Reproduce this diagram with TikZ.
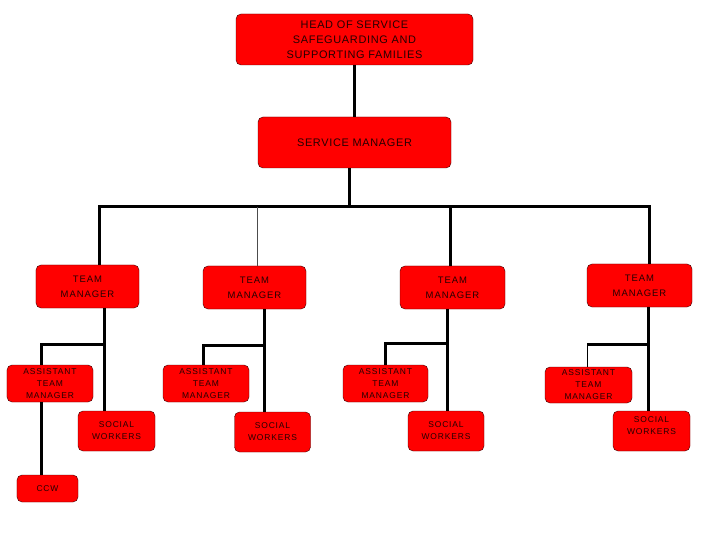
\documentclass[tikz,border=0pt]{standalone}
\usepackage{fontspec}
\setmainfont{Liberation Sans}
\usepackage{tikz}
\usetikzlibrary{positioning}

\tikzset{
  box/.style={draw=black!75!red, fill=red, rounded corners=5bp, align=center, inner sep=0pt, text=black!85!red},
  bigtext/.style={font=\fontsize{11}{15}\selectfont\addfontfeatures{LetterSpace=6}},
  tmtext/.style={font=\fontsize{9.5}{15}\selectfont\addfontfeatures{LetterSpace=10}},
  smalltext/.style={font=\fontsize{8.5}{12}\selectfont\addfontfeatures{LetterSpace=10}},
  link/.style={line width=3bp, black},
  thinlink/.style={line width=0.9bp, black!70}
}

\begin{document}
\begin{tikzpicture}[x=1bp, y=-1bp]
\useasboundingbox (0,0) rectangle (720,540);

% top of the chart
\node[box, bigtext, minimum width=237bp, minimum height=51bp] (head) at (354.5,39.5) {HEAD OF SERVICE\\SAFEGUARDING AND\\SUPPORTING FAMILIES};
\node[box, bigtext, minimum width=193bp, minimum height=51bp] (sm) at (354.5,142.5) {SERVICE MANAGER};

% team managers
\node[box, tmtext, minimum width=103bp, minimum height=43bp] (tm1) at (87.5,286.5) {TEAM\\MANAGER};
\node[box, tmtext, minimum width=103bp, minimum height=43bp] (tm2) at (254.5,287.5) {TEAM\\MANAGER};
\node[box, tmtext, minimum width=105bp, minimum height=43bp] (tm3) at (452.5,287.5) {TEAM\\MANAGER};
\node[box, tmtext, minimum width=105bp, minimum height=43bp] (tm4) at (639.5,285.5) {TEAM\\MANAGER};

% assistant team managers
\node[box, smalltext, minimum width=86bp, minimum height=37bp] (atm1) at (50,383.5) {ASSISTANT\\TEAM\\MANAGER};
\node[box, smalltext, minimum width=86bp, minimum height=37bp] (atm2) at (206,383.5) {ASSISTANT\\TEAM\\MANAGER};
\node[box, smalltext, minimum width=85bp, minimum height=37bp] (atm3) at (385.5,383.5) {ASSISTANT\\TEAM\\MANAGER};
\node[box, smalltext, minimum width=87bp, minimum height=36bp] (atm4) at (588.5,385) {ASSISTANT\\TEAM\\MANAGER};

% social workers
\node[box, smalltext, minimum width=77bp, minimum height=40bp] (sw1) at (116.5,431) {SOCIAL\\WORKERS};
\node[box, smalltext, minimum width=76bp, minimum height=40bp] (sw2) at (272.5,432) {SOCIAL\\WORKERS};
\node[box, smalltext, minimum width=76bp, minimum height=40bp] (sw3) at (446,431) {SOCIAL\\WORKERS};
\node[box, smalltext, minimum width=77bp, minimum height=40bp, text depth=10bp] (sw4) at (651.5,431) {SOCIAL\\WORKERS};

\node[box, smalltext, minimum width=61bp, minimum height=27bp] (ccw) at (47.5,488.5) {CCW};

% joints
\coordinate (bus) at (349,207);
\coordinate (t1) at (104,344);
\coordinate (b1) at (41,344);
\coordinate (t2) at (264,345);
\coordinate (b2) at (203,345);
\coordinate (t3) at (447,343);
\coordinate (b3) at (385,343);
\coordinate (t4) at (648,344);
\coordinate (b4) at (587,344);

% upper lines
\draw[link] (head.south) -- (sm.north);
\draw[link] (sm.south -| bus) -- (bus);
\draw[link] ([xshift=11.5bp]tm1.north) |- (bus);
\draw[link] ([xshift=9.5bp]tm4.north) |- (bus);
\draw[thinlink] ([xshift=2.5bp]tm2.north) -- ([xshift=2.5bp]tm2.north |- bus);
\draw[link] ([xshift=-2.5bp]tm3.north) -- ([xshift=-2.5bp]tm3.north |- bus);

% lower lines
\draw[link] (tm1.south -| t1) -- (sw1.north -| t1);
\draw[link] (t1) -- (b1) -- (atm1.north -| b1);
\draw[link] (atm1.south -| b1) -- (ccw.north -| b1);
\draw[link] (tm2.south -| t2) -- (sw2.north -| t2);
\draw[link] (t2) -- (b2) -- (atm2.north -| b2);
\draw[link] (tm3.south -| t3) -- (sw3.north -| t3);
\draw[link] (t3) -- (b3) -- (atm3.north -| b3);
\draw[link] (tm4.south -| t4) -- (sw4.north -| t4);
\draw[link] (t4) -- (b4);
\draw[thinlink, black] (b4) -- (atm4.north -| b4);
\end{tikzpicture}
\end{document}
